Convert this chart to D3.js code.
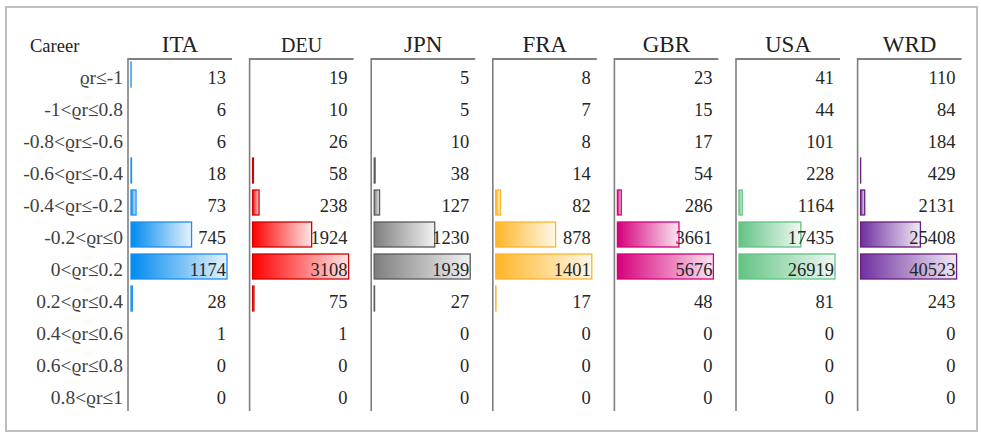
<!DOCTYPE html>
<html><head><meta charset="utf-8">
<script src="https://cdn.jsdelivr.net/npm/d3@7"></script>
<style>body{margin:0;background:#fff}svg{display:block}</style>
</head><body>
<script>
const categories = ["ϱr≤-1","-1<ϱr≤0.8","-0.8<ϱr≤-0.6","-0.6<ϱr≤-0.4","-0.4<ϱr≤-0.2","-0.2<ϱr≤0","0<ϱr≤0.2","0.2<ϱr≤0.4","0.4<ϱr≤0.6","0.6<ϱr≤0.8","0.8<ϱr≤1"];
const countries = ["ITA","DEU","JPN","FRA","GBR","USA","WRD"];
const ITA = [13,6,6,18,73,745,1174,28,1,0,0];
const DEU = [19,10,26,58,238,1924,3108,75,1,0,0];
const JPN = [5,5,10,38,127,1230,1939,27,0,0,0];
const FRA = [8,7,8,14,82,878,1401,17,0,0,0];
const GBR = [23,15,17,54,286,3661,5676,48,0,0,0];
const USA = [41,44,101,228,1164,17435,26919,81,0,0,0];
const WRD = [110,84,184,429,2131,25408,40523,243,0,0,0];
const series = {ITA,DEU,JPN,FRA,GBR,USA,WRD};
const colors = {ITA:"#008AEF",DEU:"#FF0000",JPN:"#7F7F7F",FRA:"#FFB628",GBR:"#D6007B",USA:"#63C384",WRD:"#7030A0"};
const strokes = {ITA:"#1E90F0",DEU:"#D00000",JPN:"#5A5A5A",FRA:"#FFB628",GBR:"#D6007B",USA:"#63C384",WRD:"#6A1F7A"};
const rowHeader = "Career";

const W=981,H=438;
const svg=d3.select("body").append("svg").attr("width",W).attr("height",H);
const font="'Liberation Serif','Times New Roman',serif";

svg.append("rect").attr("x",6).attr("y",7).attr("width",971).attr("height",424)
  .attr("fill","#fff").attr("stroke","#bfbfbf").attr("stroke-width",2);

const defs=svg.append("defs");
countries.forEach(c=>{
  const g=defs.append("linearGradient").attr("id","g"+c).attr("x1","0").attr("x2","1").attr("y1","0").attr("y2","0");
  g.append("stop").attr("offset","0%").attr("stop-color",colors[c]);
  g.append("stop").attr("offset","100%").attr("stop-color",d3.interpolateRgb(colors[c],"#fff")(0.9));
});

const xCol=d3.scaleBand().domain(countries).range([128,979.2]).padding(0);
const y=d3.scaleBand().domain(categories).range([58,410]).padding(0);
const colW=104, barMax=97, barOff=3, barH=25;

// row labels
svg.append("g").selectAll("text").data(categories).join("text")
  .attr("x",123).attr("y",d=>y(d)+y.bandwidth()/2+10)
  .attr("text-anchor","end").attr("font-family",font).attr("font-size",19.5).attr("fill","#404040")
  .text(d=>d);
svg.append("text").attr("x",30).attr("y",52).attr("font-family",font).attr("font-size",18.5).attr("fill","#222").text(rowHeader);

countries.forEach(c=>{
  const x0=xCol(c);
  const vals=series[c];
  const xs=d3.scaleLinear().domain([0,d3.max(vals)]).range([0,barMax]);
  const g=svg.append("g");
  g.append("text").attr("x",x0+colW/2).attr("y",52).attr("text-anchor","middle")
    .attr("font-family",font).attr("font-size",c==="DEU"?20:23).attr("fill","#222").text(c);
  g.selectAll("rect").data(vals.map((v,i)=>({v,cat:categories[i]})).filter(d=>xs(d.v)>=0.7)).join("rect")
    .attr("x",x0+barOff).attr("y",d=>y(d.cat)+4)
    .attr("width",d=>Math.max(0,xs(d.v)-1)).attr("height",barH)
    .attr("fill","url(#g"+c+")").attr("stroke",strokes[c]).attr("stroke-width",1.3);
  g.append("line").attr("x1",x0).attr("x2",x0).attr("y1",58).attr("y2",411).attr("stroke","#7f7f7f").attr("stroke-width",1.6);
  g.append("line").attr("x1",x0).attr("x2",x0+colW).attr("y1",59).attr("y2",59).attr("stroke","#7f7f7f").attr("stroke-width",2);
  g.selectAll("text.v").data(vals).join("text").attr("class","v")
    .attr("x",x0+98).attr("y",(d,i)=>y(categories[i])+y.bandwidth()/2+10)
    .attr("text-anchor","end").attr("font-family",font).attr("font-size",18.5).attr("fill","#262626")
    .text(d=>d);
});
</script>
</body></html>
